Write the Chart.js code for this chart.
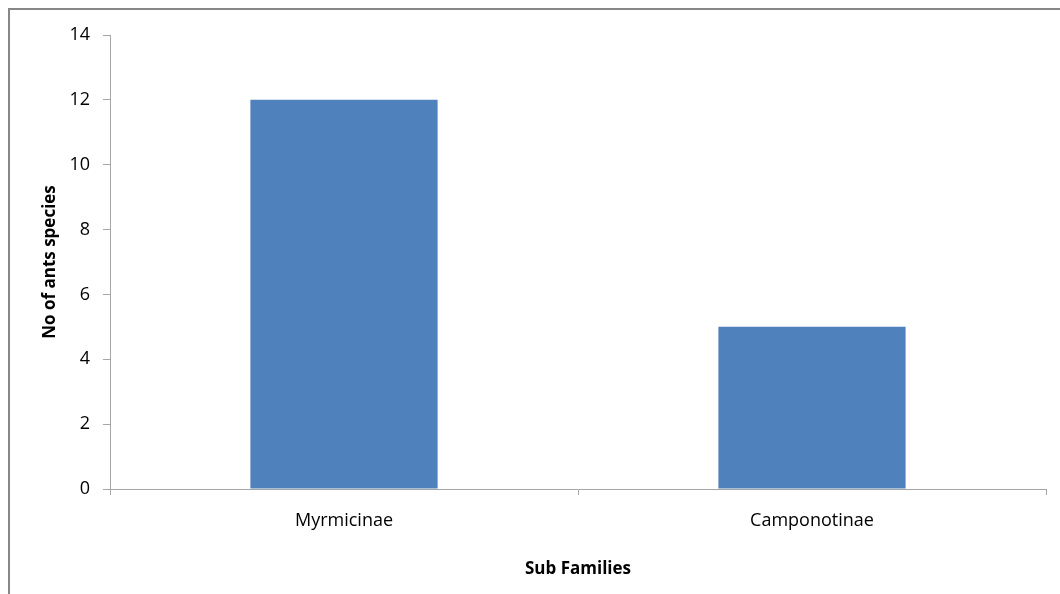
<!DOCTYPE html>
<html>
<head>
<meta charset="utf-8">
<script src="https://cdn.jsdelivr.net/npm/chart.js@4/dist/chart.umd.min.js"></script>
<style>
  html, body { margin: 0; padding: 0; background: #fff; }
  #wrap { position: relative; width: 1060px; height: 594px; overflow: hidden; }
  #frame {
    position: absolute; left: 8px; top: 8px; width: 1100px; height: 700px;
    border-top: 2px solid #878787; border-left: 2px solid #878787;
  }
  canvas { position: absolute; left: 0; top: 0; }
</style>
</head>
<body>
<div id="wrap">
  <div id="frame"></div>
  <canvas id="chart" width="1060" height="594"></canvas>
</div>
<script>
// data
const subFamilies = ['Myrmicinae', 'Camponotinae'];
const speciesCount = [12, 5];
const yTicks = [0, 2, 4, 6, 8, 10, 12, 14];

const axisColor = '#a6a6a6';
const tickFont = { family: 'Open Sans', size: 18 };
const titleFont = { family: 'Open Sans', size: 17, weight: 'bold' };

const chartConfig = {
    type: 'bar',
    data: {
        labels: subFamilies,
        datasets: [{
            label: 'No of ants species',
            data: speciesCount,
            backgroundColor: '#4f81bd',
            borderWidth: 0,
            barPercentage: 0.4,
            categoryPercentage: 1.0
        }]
    },
    options: {
        responsive: false,
        animation: false,
        layout: { padding: { left: 30, top: 35, right: 14, bottom: 0 } },
        plugins: {
            legend: { display: false },
            tooltip: { enabled: false }
        },
        scales: {
            x: {
                grid: {
                    offset: true,
                    drawOnChartArea: false,
                    drawTicks: true,
                    tickLength: 6,
                    color: axisColor
                },
                border: { color: axisColor, width: 1 },
                ticks: { color: '#000', font: tickFont, padding: 15 },
                title: {
                    display: true,
                    text: 'Sub Families',
                    color: '#000',
                    font: titleFont,
                    padding: { top: 0, bottom: 15 }
                },
                afterFit: function(scale) { scale.height = 105; }
            },
            y: {
                min: 0,
                max: 14,
                afterBuildTicks: function(scale) {
                    scale.ticks = yTicks.map(v => ({ value: v }));
                },
                grid: {
                    drawOnChartArea: false,
                    drawTicks: true,
                    tickLength: 7,
                    color: axisColor
                },
                border: { color: axisColor, width: 1 },
                ticks: { color: '#000', font: tickFont, padding: 13 },
                title: {
                    display: true,
                    text: 'No of ants species',
                    color: '#000',
                    font: titleFont,
                    padding: { top: 10, bottom: 0 }
                },
                afterFit: function(scale) { scale.width = 80; }
            }
        }
    }
};

const newChart = new Chart(document.getElementById('chart'), chartConfig);
console.log('chart area:', newChart.chartArea);
</script>
</body>
</html>
